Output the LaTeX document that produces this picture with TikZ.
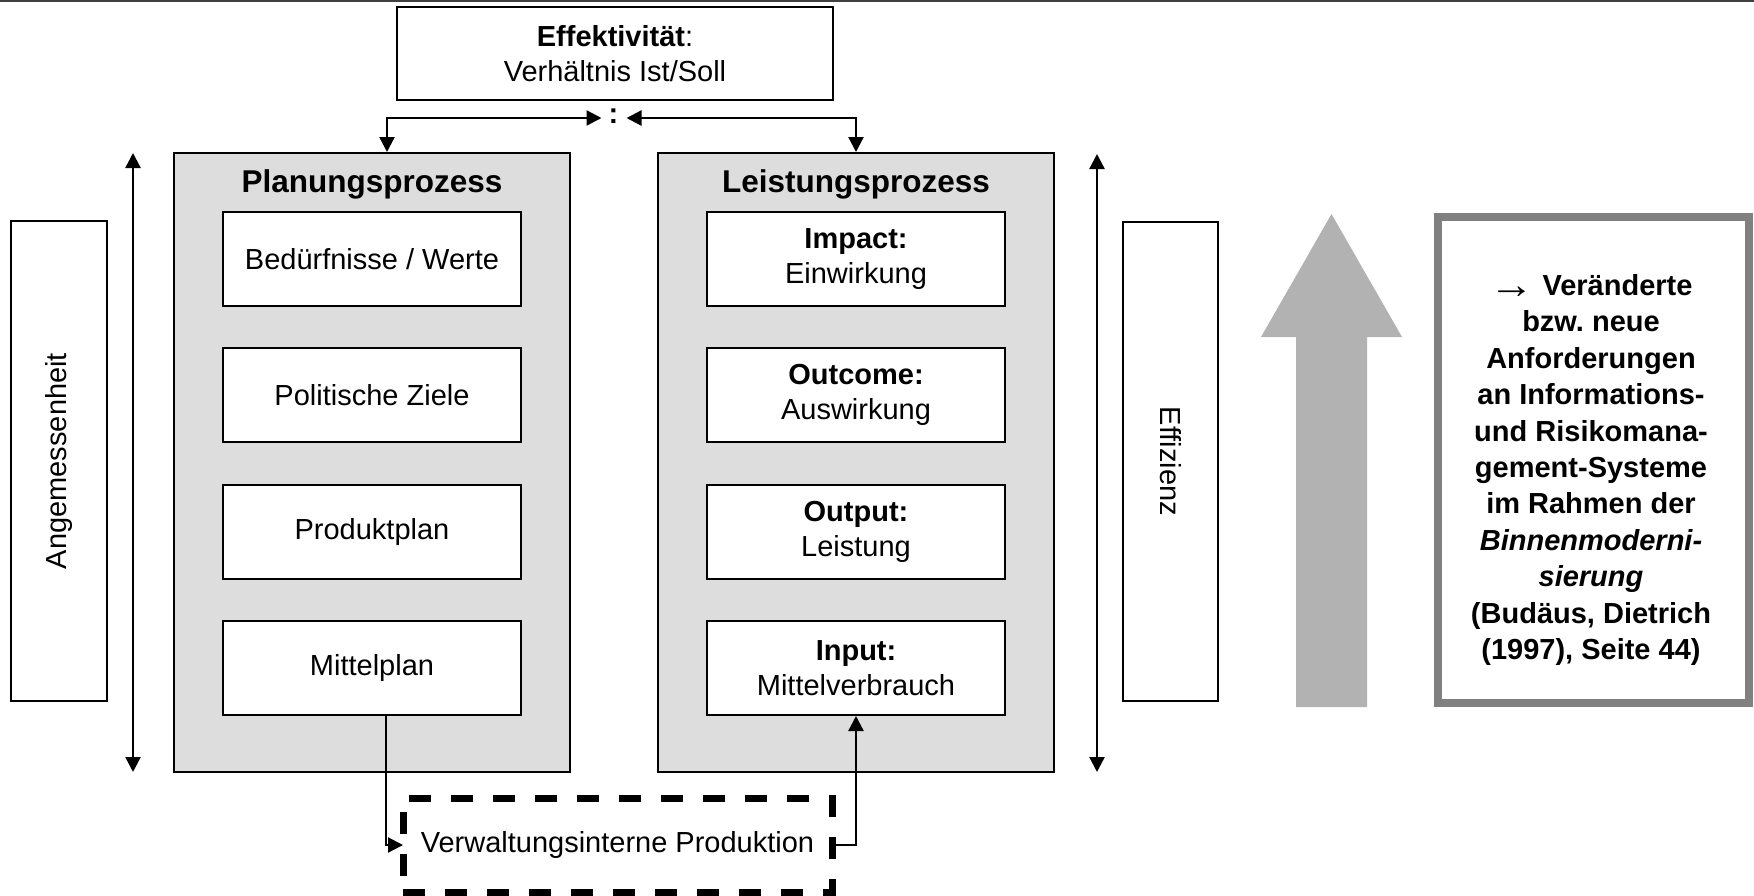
\documentclass[tikz,border=0pt]{standalone}
\usepackage{fontspec}
\setmainfont{Liberation Sans}
\usetikzlibrary{arrows.meta}
\definecolor{procgray}{HTML}{DDDDDD}
\definecolor{bigarrowgray}{HTML}{B2B2B2}
\definecolor{framegray}{HTML}{808080}
\frenchspacing
\begin{document}
\begin{tikzpicture}[x=1pt,y=-1pt,
  txt/.style={font=\fontsize{29}{35}\selectfont},
  ttl/.style={font=\fontsize{31.5}{36}\selectfont\bfseries},
  whitebox/.style={draw=black, line width=2pt, fill=white, inner sep=0pt, align=center, txt},
  procbox/.style={draw=black, line width=2pt, fill=procgray, inner sep=0pt},
  tipA/.tip={Triangle[length=15pt,width=15pt]},
  conn/.style={line width=2.3pt, -tipA},
  biconn/.style={line width=2.3pt, tipA-tipA},
]
\useasboundingbox (0,0) rectangle (1754,895);
\fill[white] (0,0) rectangle (1754,895);
\draw[line width=1.5pt, black!75] (0,0.75) -- (1754,0.75);

% top box
\node[whitebox, minimum width=436pt, minimum height=93pt] (eff) at (615,53.5)
  {\textbf{Effektivität}:\\Verhältnis Ist/Soll};
\node[txt, font=\fontsize{29}{35}\selectfont\bfseries, inner sep=0pt] (colon) at (613.5,116) {:};

% process boxes
\node[procbox, minimum width=396pt, minimum height=619pt] (plan) at (372,462.5) {};
\node[procbox, minimum width=396pt, minimum height=619pt] (leist) at (856,462.5) {};
\node[ttl] (plantitle) at (372,184) {Planungsprozess};
\node[ttl] (leisttitle) at (856,184) {Leistungsprozess};

\foreach \n/\y/\t in {p1/259/{Bedürfnisse / Werte}, p2/395/{Politische Ziele}, p3/532/{Produktplan}, p4/668/{Mittelplan}}
  \node[whitebox, minimum width=298pt, minimum height=94pt] (\n) at (372,\y) {\t};

\node[whitebox, minimum width=298pt, minimum height=94pt] (l1) at (856,259) {\textbf{Impact:}\\Einwirkung};
\node[whitebox, minimum width=298pt, minimum height=94pt] (l2) at (856,395) {\textbf{Outcome:}\\Auswirkung};
\node[whitebox, minimum width=298pt, minimum height=94pt] (l3) at (856,532) {\textbf{Output:}\\Leistung};
\node[whitebox, minimum width=298pt, minimum height=94pt] (l4) at (856,668) {\textbf{Input:}\\Mittelverbrauch};

% side labels
\node[whitebox, rotate=90, minimum width=480pt, minimum height=96pt] (angem) at (59,461) {Angemessenheit};
\node[whitebox, rotate=-90, minimum width=479pt, minimum height=95pt] (effiz) at (1170.5,461.5) {Effizienz};

% dashed production box
\node[draw=black, line width=7pt, dash pattern=on 22pt off 20pt, outer sep=0pt, inner sep=0pt,
  minimum width=429pt, minimum height=94pt, txt] (verw) at (617.5,845) {Verwaltungsinterne Produktion};

% big gray arrow
\fill[bigarrowgray] (1296,707) -- (1296,337) -- (1261,337) -- (1331.5,214) -- (1402,337) -- (1367,337) -- (1367,707) -- cycle;

% right info box
\node[draw=framegray, line width=8pt, fill=white, minimum width=311pt, minimum height=486pt] (info) at (1593.5,460) {};
\node[align=center, inner sep=0pt, font=\fontsize{29}{36.4}\selectfont\bfseries] (infotext) at (1591,470)
  {\raisebox{-3pt}{\scalebox{1.55}[1.4]{→}} Veränderte\\bzw. neue\\Anforderungen\\an Informations-\\und Risikomana-\\gement-Systeme\\im Rahmen der\\\textit{Binnenmoderni-}\\\textit{sierung}\\(Budäus, Dietrich\\(1997), Seite 44)};

% vertical double arrows
\coordinate (ltop) at (133,153);
\coordinate (lbot) at (133,772);
\coordinate (rtop) at (1097,154);
\coordinate (rbot) at (1097,772);
\draw[biconn] (ltop) -- (lbot);
\draw[biconn] (rtop) -- (rbot);

% connectors
\draw[biconn] ([xshift=-12pt,yshift=-2pt]colon.center) -| ([xshift=15pt]plan.north);
\draw[biconn] ([xshift=13pt,yshift=-2pt]colon.center) -| (leist.north);
\draw[conn] ([xshift=14pt]p4.south) |- (verw.west);
\draw[conn] (verw.east) -| (l4.south);
\end{tikzpicture}
\end{document}
